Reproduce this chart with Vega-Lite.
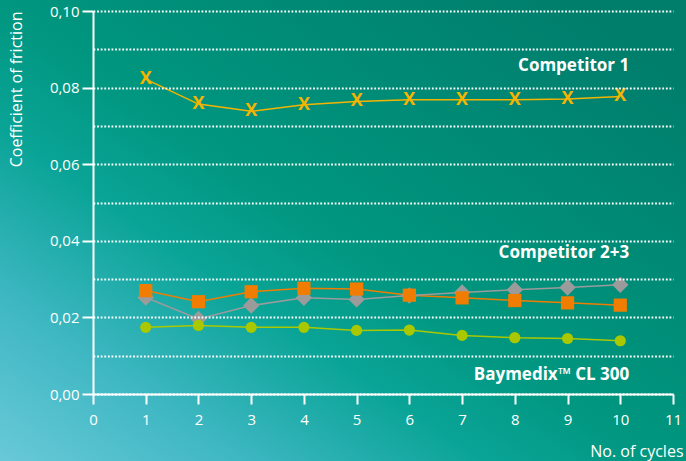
{
  "$schema": "https://vega.github.io/schema/vega-lite/v6.json",
  "width": 580,
  "height": 383,
  "autosize": {"type": "none"},
  "padding": {"left": 93, "top": 11, "right": 13, "bottom": 67},
  "background": "#059c8c",
  "config": {
    "view": {"stroke": null},
    "axis": {
      "zindex": 1,
      "domainColor": "#ffffff",
      "domainWidth": 2,
      "tickColor": "#ffffff",
      "tickWidth": 2,
      "labelColor": "#ffffff",
      "titleColor": "#ffffff",
      "labelFont": "Open Sans",
      "titleFont": "Open Sans",
      "labelFontSize": 15,
      "titleFontSize": 16,
      "titleFontWeight": "normal",
      "gridColor": "#ffffff",
      "gridDash": [1.8, 1.8],
      "gridWidth": 2,
      "gridOpacity": 1
    }
  },
  "datasets": {
    "series": [
      {"cycle": 1, "series": "Competitor 1", "cof": 0.0822},
      {"cycle": 2, "series": "Competitor 1", "cof": 0.0757},
      {"cycle": 3, "series": "Competitor 1", "cof": 0.0738},
      {"cycle": 4, "series": "Competitor 1", "cof": 0.0755},
      {"cycle": 5, "series": "Competitor 1", "cof": 0.0764},
      {"cycle": 6, "series": "Competitor 1", "cof": 0.0768},
      {"cycle": 7, "series": "Competitor 1", "cof": 0.0768},
      {"cycle": 8, "series": "Competitor 1", "cof": 0.0768},
      {"cycle": 9, "series": "Competitor 1", "cof": 0.0770},
      {"cycle": 10, "series": "Competitor 1", "cof": 0.0777},
      {"cycle": 1, "series": "Competitor 2", "cof": 0.0270},
      {"cycle": 2, "series": "Competitor 2", "cof": 0.0241},
      {"cycle": 3, "series": "Competitor 2", "cof": 0.0267},
      {"cycle": 4, "series": "Competitor 2", "cof": 0.0276},
      {"cycle": 5, "series": "Competitor 2", "cof": 0.0274},
      {"cycle": 6, "series": "Competitor 2", "cof": 0.0258},
      {"cycle": 7, "series": "Competitor 2", "cof": 0.0251},
      {"cycle": 8, "series": "Competitor 2", "cof": 0.0244},
      {"cycle": 9, "series": "Competitor 2", "cof": 0.0238},
      {"cycle": 10, "series": "Competitor 2", "cof": 0.0232},
      {"cycle": 1, "series": "Competitor 3", "cof": 0.0252},
      {"cycle": 2, "series": "Competitor 3", "cof": 0.0196},
      {"cycle": 3, "series": "Competitor 3", "cof": 0.0231},
      {"cycle": 4, "series": "Competitor 3", "cof": 0.0251},
      {"cycle": 5, "series": "Competitor 3", "cof": 0.0247},
      {"cycle": 6, "series": "Competitor 3", "cof": 0.0257},
      {"cycle": 7, "series": "Competitor 3", "cof": 0.0265},
      {"cycle": 8, "series": "Competitor 3", "cof": 0.0272},
      {"cycle": 9, "series": "Competitor 3", "cof": 0.0278},
      {"cycle": 10, "series": "Competitor 3", "cof": 0.0285},
      {"cycle": 1, "series": "Baymedix CL 300", "cof": 0.0174},
      {"cycle": 2, "series": "Baymedix CL 300", "cof": 0.0179},
      {"cycle": 3, "series": "Baymedix CL 300", "cof": 0.0174},
      {"cycle": 4, "series": "Baymedix CL 300", "cof": 0.0174},
      {"cycle": 5, "series": "Baymedix CL 300", "cof": 0.0166},
      {"cycle": 6, "series": "Baymedix CL 300", "cof": 0.0167},
      {"cycle": 7, "series": "Baymedix CL 300", "cof": 0.0153},
      {"cycle": 8, "series": "Baymedix CL 300", "cof": 0.0147},
      {"cycle": 9, "series": "Baymedix CL 300", "cof": 0.0145},
      {"cycle": 10, "series": "Baymedix CL 300", "cof": 0.0139}
    ],
    "labels": [
      {"label": "Competitor 1", "cycle": 10.17, "cof": 0.0857},
      {"label": "Competitor 2+3", "cycle": 10.17, "cof": 0.0369},
      {"label": "Baymedix™ CL 300", "cycle": 10.17, "cof": 0.0050}
    ]
  },
  "layer": [
    {
      "data": {"name": "labels"},
      "transform": [{"aggregate": [{"op": "count", "as": "n"}]}],
      "mark": {
        "type": "rect",
        "color": {
          "gradient": "linear",
          "x1": 0, "y1": 1, "x2": 0.9, "y2": 0.1,
          "stops": [
            {"offset": 0, "color": "#6ccad9"},
            {"offset": 0.2, "color": "#40b8c4"},
            {"offset": 0.4, "color": "#0aa497"},
            {"offset": 0.55, "color": "#00967f"},
            {"offset": 1, "color": "#007e6c"}
          ]
        }
      },
      "encoding": {
        "x": {"datum": -1.85, "type": "quantitative"},
        "x2": {"datum": 11.4},
        "y": {"datum": -0.02, "type": "quantitative"},
        "y2": {"datum": 0.105}
      }
    },
    {
      "data": {"name": "series"},
      "mark": {"type": "line", "strokeWidth": 1.5},
      "encoding": {
        "x": {"field": "cycle", "type": "quantitative", "scale": {"domain": [0, 11], "nice": false, "zero": false},
          "axis": {
            "zindex": 1,
            "values": [0, 1, 2, 3, 4, 5, 6, 7, 8, 9, 10, 11],
            "format": "d",
            "grid": false,
            "labelFlush": false,
            "tickSize": 10,
            "labelPadding": 8,
            "title": "No. of cycles",
            "titleAnchor": "end",
            "titleAlign": "right",
            "titleBaseline": "middle",
            "titleX": 590,
            "titleY": 57
          }},
        "y": {"field": "cof", "type": "quantitative", "scale": {"domain": [0, 0.1], "nice": false, "zero": false},
          "axis": {
            "zindex": 1,
            "values": [0, 0.01, 0.02, 0.03, 0.04, 0.05, 0.06, 0.07, 0.08, 0.09, 0.1],
            "tickCount": 11,
            "format": ".2f",
            "labelExpr": "round(datum.value*100) % 2 == 0 ? replace(datum.label, '.', ',') : ''",
            "tickOpacity": {"condition": {"test": "round(datum.value*100) % 2 == 0", "value": 1}, "value": 0},
            "labelOverlap": false,
            "grid": true,
            "tickSize": 11,
            "labelPadding": 3,
            "title": "Coefficient of friction",
            "titleAngle": -90,
            "titleAlign": "right",
            "titleBaseline": "middle",
            "titleX": -77,
            "titleY": 0
          }},
        "color": {"field": "series", "type": "nominal", "legend": null,
          "scale": {"domain": ["Competitor 3", "Competitor 2", "Baymedix CL 300", "Competitor 1"],
                    "range": ["#9b9b9b", "#f07d00", "#aac800", "#f5b400"]}}
      }
    },
    {
      "data": {"name": "series"},
      "transform": [{"filter": "datum.series == 'Competitor 3'"}],
      "mark": {"type": "point", "shape": "diamond", "filled": true, "size": 270, "color": "#9b9b9b", "opacity": 1},
      "encoding": {
        "x": {"field": "cycle", "type": "quantitative"},
        "y": {"field": "cof", "type": "quantitative"}
      }
    },
    {
      "data": {"name": "series"},
      "transform": [{"filter": "datum.series == 'Competitor 2'"}],
      "mark": {"type": "point", "shape": "square", "filled": true, "size": 175, "color": "#f07d00", "opacity": 1},
      "encoding": {
        "x": {"field": "cycle", "type": "quantitative"},
        "y": {"field": "cof", "type": "quantitative"}
      }
    },
    {
      "data": {"name": "series"},
      "transform": [{"filter": "datum.series == 'Baymedix CL 300'"}],
      "mark": {"type": "point", "shape": "circle", "filled": true, "size": 125, "color": "#aac800", "opacity": 1},
      "encoding": {
        "x": {"field": "cycle", "type": "quantitative"},
        "y": {"field": "cof", "type": "quantitative"}
      }
    },
    {
      "data": {"name": "series"},
      "transform": [{"filter": "datum.series == 'Competitor 1'"}],
      "mark": {"type": "text", "text": "X", "font": "Open Sans", "fontWeight": "bold", "fontSize": 18, "color": "#f5b400", "align": "center", "baseline": "middle"},
      "encoding": {
        "x": {"field": "cycle", "type": "quantitative"},
        "y": {"field": "cof", "type": "quantitative"}
      }
    },
    {
      "data": {"name": "labels"},
      "mark": {"type": "text", "font": "Open Sans", "fontWeight": "bold", "fontSize": 17, "color": "#ffffff", "align": "right", "baseline": "middle"},
      "encoding": {
        "x": {"field": "cycle", "type": "quantitative"},
        "y": {"field": "cof", "type": "quantitative"},
        "text": {"field": "label"}
      }
    }
  ]
}
